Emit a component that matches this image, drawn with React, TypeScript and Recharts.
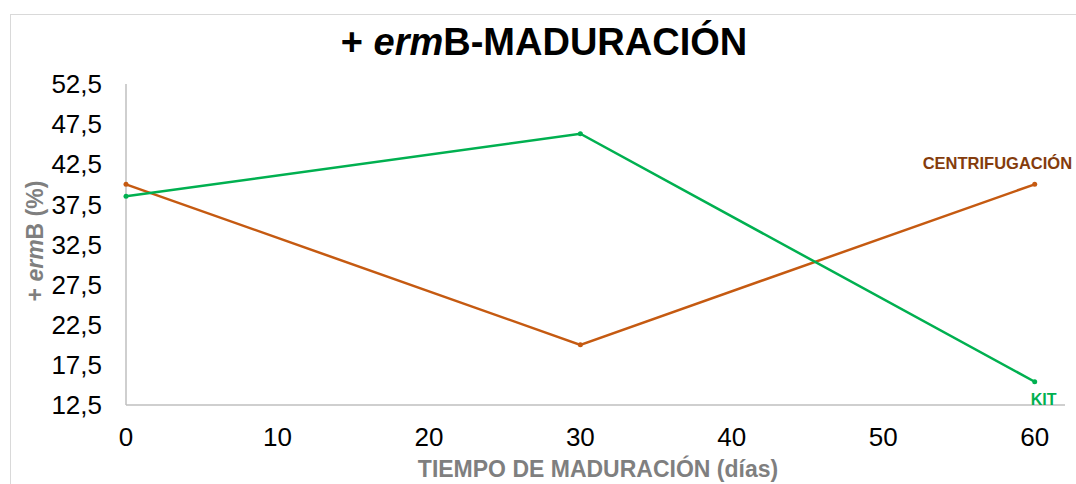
import React from "react";
import { LineChart, Line, XAxis, YAxis } from "recharts";

const days = [0, 30, 60];
const kit = [38.5, 46.3, 15.4];
const centrifugacion = [40, 20, 40];
const xTicks = [0, 10, 20, 30, 40, 50, 60];
const yTicks = [12.5, 17.5, 22.5, 27.5, 32.5, 37.5, 42.5, 47.5, 52.5];

const data = days.map((d, i) => ({ day: d, kit: kit[i], centri: centrifugacion[i] }));

const FONT = "Liberation Sans, Arial, sans-serif";
const GREEN = "#00B050";
const ORANGE = "#C55A11";
const BROWN = "#843C0C";
const GRAY = "#7F7F7F";

const endLabel = (text: string, color: string, dx: number, dy: number, size: number) => (props: any) => {
  const { x, y, index } = props;
  if (index !== days.length - 1) return null;
  return (
    <text x={x + dx} y={y + dy} fill={color} fontFamily={FONT} fontWeight="bold" fontSize={size}>
      {text}
    </text>
  );
};

export default function App() {
  return (
    <div style={{ position: "absolute", left: 0, top: 0, width: 1076, height: 484, background: "#fff" }}>
      <svg width={1076} height={484} style={{ position: "absolute", left: 0, top: 0 }}>
        <rect x={10.5} y={14.5} width={1100} height={500} fill="#fff" stroke="#d9d9d9" strokeWidth={1} />
        <text x={544} y={55} textAnchor="middle" fontFamily={FONT} fontWeight="bold" fontSize={38} fill="#000">
          {"+ "}
          <tspan fontStyle="italic">erm</tspan>
          {"B-MADURACIÓN"}
        </text>
        <text x={598} y={477} textAnchor="middle" fontFamily={FONT} fontWeight="bold" fontSize={23} fill={GRAY}>
          TIEMPO DE MADURACIÓN (días)
        </text>
        <text
          x={43}
          y={241}
          textAnchor="middle"
          transform="rotate(-90, 43, 241)"
          fontFamily={FONT}
          fontWeight="bold"
          fontSize={23}
          fill={GRAY}
        >
          {"+ "}
          <tspan fontStyle="italic">erm</tspan>
          {"B (%)"}
        </text>
      </svg>
      <div style={{ position: "absolute", left: 0, top: 0 }}>
        <LineChart width={1076} height={484} data={data} margin={{ top: 84, right: 11, bottom: 0, left: 0 }}>
          <XAxis
            dataKey="day"
            type="number"
            domain={[0, 62]}
            ticks={xTicks}
            height={79}
            tickLine={false}
            tickMargin={17}
            axisLine={{ stroke: "#bfbfbf", strokeWidth: 1.5 }}
            tick={{ fill: "#000", fontSize: 26, fontFamily: FONT }}
            interval={0}
          />
          <YAxis
            type="number"
            domain={[12.5, 52.5]}
            ticks={yTicks}
            width={126}
            tickLine={false}
            tickMargin={18}
            axisLine={{ stroke: "#bfbfbf", strokeWidth: 1.5 }}
            tick={{ fill: "#000", fontSize: 26, fontFamily: FONT }}
            tickFormatter={(v: number) => v.toFixed(1).replace(".", ",")}
            interval={0}
            allowDataOverflow
          />
          <Line
            dataKey="centri"
            stroke={ORANGE}
            strokeWidth={2.5}
            dot={{ r: 2.5, fill: ORANGE, stroke: "none" }}
            isAnimationActive={false}
            label={endLabel("CENTRIFUGACIÓN", BROWN, -112, -15, 16.5)}
          />
          <Line
            dataKey="kit"
            stroke={GREEN}
            strokeWidth={2.5}
            dot={{ r: 2.5, fill: GREEN, stroke: "none" }}
            isAnimationActive={false}
            label={endLabel("KIT", GREEN, -4, 23, 16)}
          />
        </LineChart>
      </div>
    </div>
  );
}
